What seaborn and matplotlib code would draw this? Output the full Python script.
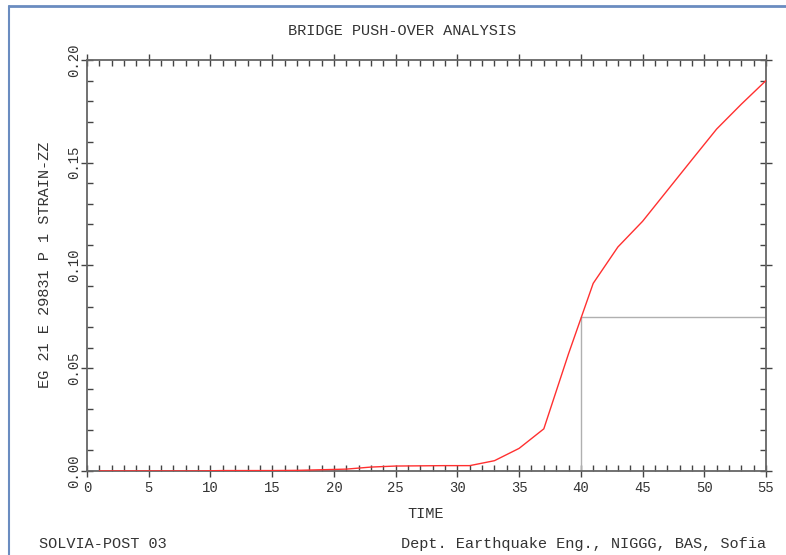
import pandas as pd
import matplotlib.pyplot as plt
import seaborn as sns
from matplotlib.ticker import MultipleLocator, FormatStrFormatter
from matplotlib.lines import Line2D

sns.set_style('ticks')
plt.rcParams['font.family'] = ['Liberation Mono', 'DejaVu Sans Mono']

# strain history
time = [1, 3, 5, 7, 9, 11, 13, 15, 17, 19, 21, 23, 25, 27,
        29, 31, 33, 35, 37, 39, 41, 43, 45, 47, 49, 51, 53, 55]
strain = [0.0, 0.0, 0.0, 0.0, 0.0, 0.0002, 0.0002, 0.0002, 0.0003, 0.0006,
          0.0009, 0.0019, 0.0024, 0.0025, 0.0026, 0.0026, 0.0050, 0.0110,
          0.0205, 0.0570, 0.0913, 0.1090, 0.1215, 0.1365, 0.1515, 0.1664,
          0.1785, 0.1900]

# marker at the selected time
mark_time = 40
mark_value = 0.075

title = 'BRIDGE PUSH-OVER ANALYSIS'
xlabel = 'TIME'
ylabel = 'EG 21 E 29831 P 1 STRAIN-ZZ'
footer_left = 'SOLVIA-POST 03'
footer_right = 'Dept. Earthquake Eng., NIGGG, BAS, Sofia'

df = pd.DataFrame({'time': time, 'strain': strain})

fig = plt.figure(figsize=(7.86, 5.55), dpi=100)
ax = fig.add_axes([0.1107, 0.1514, 0.8639, 0.7405])

# guide lines at the marked point
ax.plot([mark_time, mark_time], [0, mark_value], color='#b0b0b0', lw=1.0, zorder=1)
ax.plot([mark_time, 55], [mark_value, mark_value], color='#b0b0b0', lw=1.0, zorder=1)

sns.lineplot(data=df, x='time', y='strain', ax=ax, color='#ff3030', lw=1.0, zorder=3)

ax.set_xlim(0, 55)
ax.set_ylim(0, 0.20)
ax.xaxis.set_major_locator(MultipleLocator(5))
ax.xaxis.set_minor_locator(MultipleLocator(1))
ax.yaxis.set_major_locator(MultipleLocator(0.05))
ax.yaxis.set_minor_locator(MultipleLocator(0.01))
ax.yaxis.set_major_formatter(FormatStrFormatter('%.2f'))

for side in ['left', 'right', 'top', 'bottom']:
    ax.spines[side].set_visible(True)
    ax.spines[side].set_color('#666666')
    ax.spines[side].set_linewidth(1.3)

txt = '#333333'
ax.tick_params(which='major', direction='inout', length=9, width=1.0, color='#444444',
               top=True, right=True, labelsize=10, pad=3, labelcolor=txt)
ax.tick_params(axis='y', which='major', pad=0)
ax.tick_params(which='minor', direction='in', length=4, width=1.0, color='#444444',
               top=True, right=True)
for lbl in ax.get_yticklabels():
    lbl.set_rotation(90)
    lbl.set_va('center')

ax.set_xlabel('')
ax.set_ylabel('')
fs = 11
fig.text(0.5115, 0.944, title, ha='center', va='center', fontsize=fs, color=txt)
fig.text(0.541, 0.074, xlabel, ha='center', va='center', fontsize=fs, color=txt)
fig.text(0.057, 0.522, ylabel, ha='center', va='center', rotation=90, fontsize=fs, color=txt)
fig.text(0.049, 0.019, footer_left, ha='left', va='center', fontsize=fs, color=txt)
fig.text(0.975, 0.019, footer_right, ha='right', va='center', fontsize=fs, color=txt)

# window frame on the left and top edges
fig.add_artist(Line2D([0.0115, 0.0115], [0, 0.99], transform=fig.transFigure,
                      color='#6a8cc0', lw=1.5))
fig.add_artist(Line2D([0.0115, 1.0], [0.99, 0.99], transform=fig.transFigure,
                      color='#6a8cc0', lw=2))

fig.savefig('out.png', dpi=100)
